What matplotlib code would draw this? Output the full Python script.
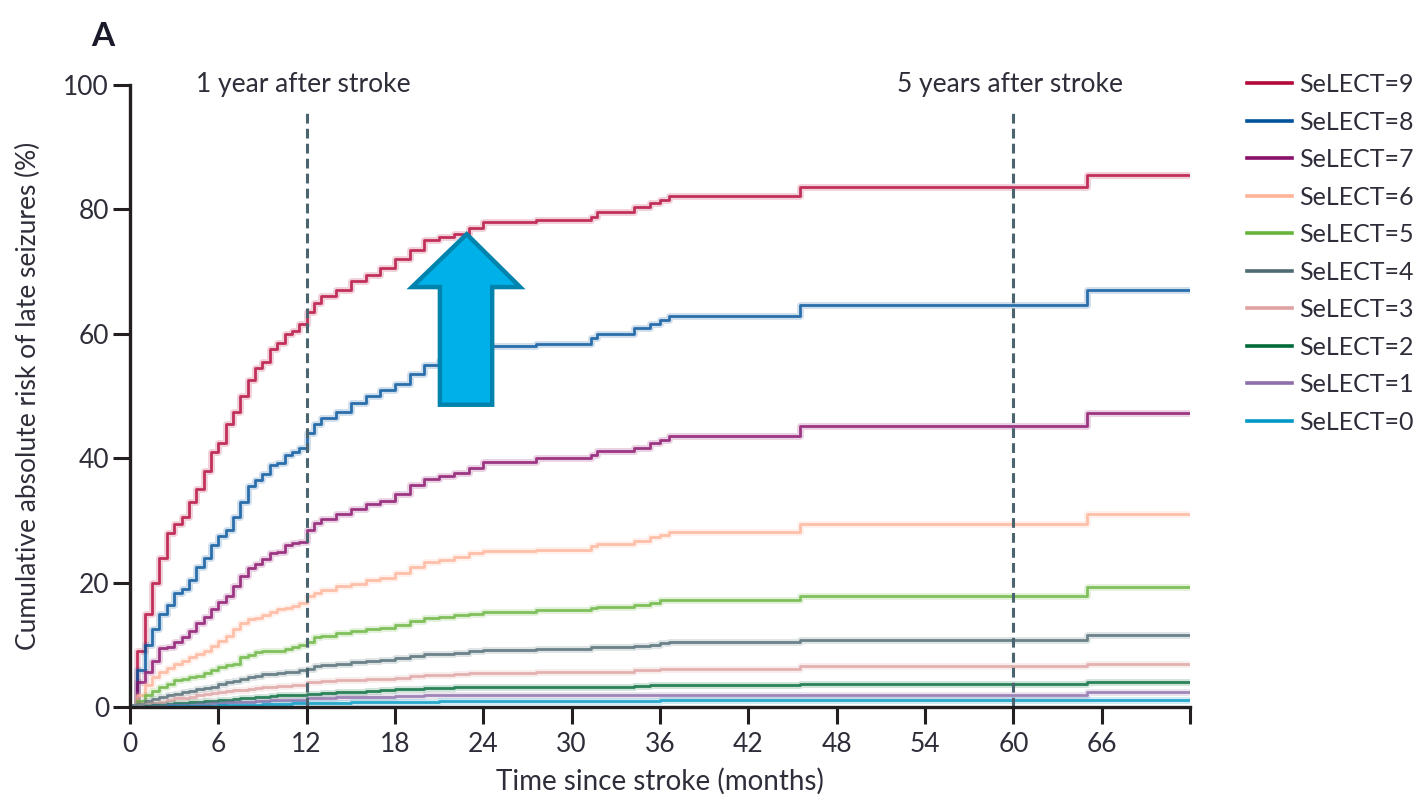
import numpy as np
import matplotlib
matplotlib.use("Agg")
import matplotlib.pyplot as plt
from matplotlib.lines import Line2D
from matplotlib.patches import Polygon

plt.rcParams['font.family'] = ['Lato', 'DejaVu Sans']

# follow-up grid (months) shared by all score groups; steps hold until next time
months = [0, 0.5, 1, 1.5, 2, 2.5, 3, 3.5, 4, 4.5, 5, 5.5, 6, 6.5, 7, 7.5, 8, 8.5, 9, 9.5,
          10, 10.5, 11, 11.5, 12, 12.5, 13, 14, 15, 16, 17, 18, 19, 20, 21, 22, 23, 24,
          27.6, 31.3, 31.7, 34.2, 35.3, 36, 36.6, 45.5, 65, 72]

risk_9 = [0, 9, 15, 20, 24, 28, 29.5, 30.5, 33, 35, 38, 41, 42.5, 45.5, 47.5, 50, 52.5, 54.5, 55.5, 57.5,
          58.5, 60, 60.5, 61.5, 63.5, 65, 66, 67, 68.5, 69.5, 70.5, 72, 73.5, 75, 75.5, 76, 77, 78,
          78.3, 78.8, 79.6, 80.4, 81, 81.5, 82.2, 83.5, 85.5, 85.5]
risk_8 = [0, 6, 10, 12.5, 15, 16.5, 18.3, 19, 20.5, 22.5, 24, 26, 27.5, 28.5, 30.5, 33, 35.5, 36.5, 37.5, 38.9,
          39.2, 40.5, 41, 41.6, 44, 45.5, 46.5, 47.5, 48.8, 50, 51, 52, 53.5, 55, 55.7, 56.5, 57.3, 58.1,
          58.4, 59.3, 60, 60.9, 61.6, 62.2, 62.9, 64.6, 67, 67]
risk_7 = [0, 4, 5.6, 7.5, 9.5, 9.6, 10.5, 11.2, 12.3, 13.5, 14.5, 15.8, 16.9, 17.8, 19.5, 21, 22.3, 23, 23.8, 24.8,
          25, 26, 26.4, 26.6, 28.5, 29.6, 30.3, 31, 31.8, 32.7, 33.2, 34.3, 35.7, 36.6, 37.1, 37.6, 38.4, 39.4,
          40, 40.5, 41.1, 41.6, 42.4, 43, 43.6, 45.1, 47.2, 47.2]
risk_6 = [0, 2, 3.6, 4.8, 5.6, 6.3, 7, 7.5, 8.1, 8.6, 9.1, 9.8, 10.7, 11.5, 12.5, 13.5, 14.1, 14.3, 14.8, 15.3,
          15.7, 16, 16.3, 16.7, 17.8, 18.3, 18.8, 19.4, 19.8, 20.4, 20.8, 21.5, 22.6, 23.3, 23.6, 24.1, 24.7, 25.1,
          25.3, 25.9, 26.3, 26.7, 27.3, 27.7, 28.1, 29.5, 31, 31]
risk_5 = [0, 1, 1.9, 2.6, 3.3, 3.8, 4.3, 4.5, 4.8, 5, 5.5, 6, 6.4, 6.8, 7, 8, 8.4, 8.8, 9.1, 9.1,
          9.1, 9.4, 9.7, 10, 10.5, 11.2, 11.4, 11.9, 12.3, 12.5, 12.8, 13.2, 13.8, 14.3, 14.5, 14.8, 15, 15.3,
          15.6, 16, 16.1, 16.4, 16.8, 17.2, 17.3, 17.9, 19.3, 19.3]
risk_4 = [0, 0.5, 1, 1.3, 1.6, 1.9, 2.1, 2.4, 2.6, 2.9, 3.1, 3.3, 3.7, 4, 4.2, 4.5, 4.8, 5, 5.3, 5.4,
          5.5, 5.6, 5.7, 6, 6.2, 6.6, 6.7, 6.9, 7.2, 7.4, 7.6, 7.9, 8.3, 8.5, 8.6, 8.7, 9, 9.2,
          9.3, 9.6, 9.6, 9.9, 10, 10.3, 10.4, 10.8, 11.6, 11.6]
risk_3 = [0, 0.3, 0.5, 0.7, 0.9, 1.1, 1.4, 1.5, 1.7, 1.9, 2.1, 2.3, 2.5, 2.6, 2.7, 2.8, 3, 3.1, 3.3, 3.3,
          3.4, 3.4, 3.5, 3.5, 4, 4.1, 4.2, 4.3, 4.4, 4.5, 4.6, 4.7, 5, 5.1, 5.2, 5.3, 5.5, 5.5,
          5.6, 5.7, 5.7, 5.9, 6, 6.1, 6.1, 6.6, 6.9, 6.9]
risk_2 = [0, 0.1, 0.2, 0.3, 0.4, 0.5, 0.6, 0.7, 0.8, 0.9, 1, 1, 1.1, 1.2, 1.3, 1.4, 1.5, 1.6, 1.7, 1.8,
          1.9, 1.9, 2, 2, 2.1, 2.2, 2.3, 2.4, 2.5, 2.6, 2.7, 2.9, 3, 3.1, 3.1, 3.2, 3.2, 3.2,
          3.3, 3.3, 3.3, 3.4, 3.5, 3.5, 3.5, 3.7, 4.1, 4.1]
risk_1 = [0, 0.1, 0.1, 0.2, 0.2, 0.3, 0.3, 0.4, 0.4, 0.5, 0.5, 0.6, 0.7, 0.8, 0.8, 0.9, 0.9, 1, 1, 1.1,
          1.1, 1.1, 1.2, 1.2, 1.5, 1.5, 1.5, 1.6, 1.6, 1.7, 1.7, 1.8, 1.8, 1.9, 1.9, 1.9, 1.9, 1.9,
          1.9, 1.9, 1.9, 1.9, 1.9, 2, 2, 2, 2.4, 2.4]
risk_0 = [0, 0.05, 0.1, 0.1, 0.1, 0.15, 0.15, 0.2, 0.2, 0.2, 0.25, 0.25, 0.3, 0.3, 0.3, 0.35, 0.4, 0.4, 0.45, 0.5,
          0.5, 0.55, 0.6, 0.6, 0.65, 0.7, 0.7, 0.75, 0.8, 0.8, 0.8, 0.85, 0.9, 0.9, 0.95, 1, 1, 1,
          1, 1, 1, 1, 1.05, 1.1, 1.1, 1.1, 1.1, 1.1]

labels = ["SeLECT=9", "SeLECT=8", "SeLECT=7", "SeLECT=6", "SeLECT=5",
          "SeLECT=4", "SeLECT=3", "SeLECT=2", "SeLECT=1", "SeLECT=0"]
series = [risk_9, risk_8, risk_7, risk_6, risk_5, risk_4, risk_3, risk_2, risk_1, risk_0]
colors = ["#b5083a", "#00529b", "#8a0f6a", "#ffb399", "#66b43c",
          "#4e6a73", "#dea2a2", "#006b38", "#8e6eab", "#0098c4"]

ink = "#2e2e3a"
fig = plt.figure(figsize=(14.22, 8), dpi=100)
ax = fig.add_axes([0.0914, 0.116, 0.7455, 0.778])

# lowest score drawn last so the flat curves stay visible near zero
for vals, col in zip(series, colors):
    ax.step(months, vals, where="post", color=col, lw=5, alpha=0.18)
    ax.step(months, vals, where="post", color=col, lw=2.0, alpha=0.8)

# 1-year and 5-year reference lines
for xm, txt in [(12, "1 year after stroke"), (60, "5 years after stroke")]:
    ax.plot([xm, xm], [0, 96], color="#4a6470", lw=2.2, dashes=(3.2, 1.7))
    ax.text(xm - 0.2, 100, txt, ha="center", va="center", fontsize=19, color=ink)

# highlight arrow pointing to the top score group
arrow = Polygon([(21.05, 48.6), (24.6, 48.6), (24.6, 67.5), (26.5, 67.5), (22.87, 76.0),
                 (19.15, 67.5), (21.05, 67.5)], closed=True,
                facecolor="#00b0e8", edgecolor="#0084ad", lw=3.2, joinstyle="miter", zorder=5)
ax.add_patch(arrow)

ax.set_xlim(0, 72)
ax.set_ylim(0, 100)
ax.set_xticks(range(0, 73, 6))
ax.set_xticklabels([str(m) for m in range(0, 67, 6)] + [""])
ax.set_yticks(range(0, 101, 20))
for s in ["top", "right"]:
    ax.spines[s].set_visible(False)
for s in ["left", "bottom"]:
    ax.spines[s].set_linewidth(2.4)
    ax.spines[s].set_color("#231f20")
ax.tick_params(axis="both", length=12, width=2.2, color="#231f20", labelsize=19, labelcolor=ink)
ax.tick_params(axis="x", pad=6)
ax.tick_params(axis="y", pad=3)
ax.set_xlabel("Time since stroke (months)", fontsize=20, color=ink, labelpad=8)
ax.set_ylabel("Cumulative absolute risk of late seizures (%)", fontsize=19, color=ink, labelpad=16)

handles = [Line2D([], [], color=c, lw=2.6) for c in colors]
fig.legend(handles, labels, loc="upper left", bbox_to_anchor=(0.870, 0.921), frameon=False,
           fontsize=18, handlelength=1.8, handletextpad=0.3, labelspacing=0.58,
           labelcolor=ink, borderaxespad=0)

fig.text(0.064, 0.955, "A", fontsize=24, fontweight="bold", color="#1a1a2a", va="center")

fig.savefig("out.png", dpi=100)
